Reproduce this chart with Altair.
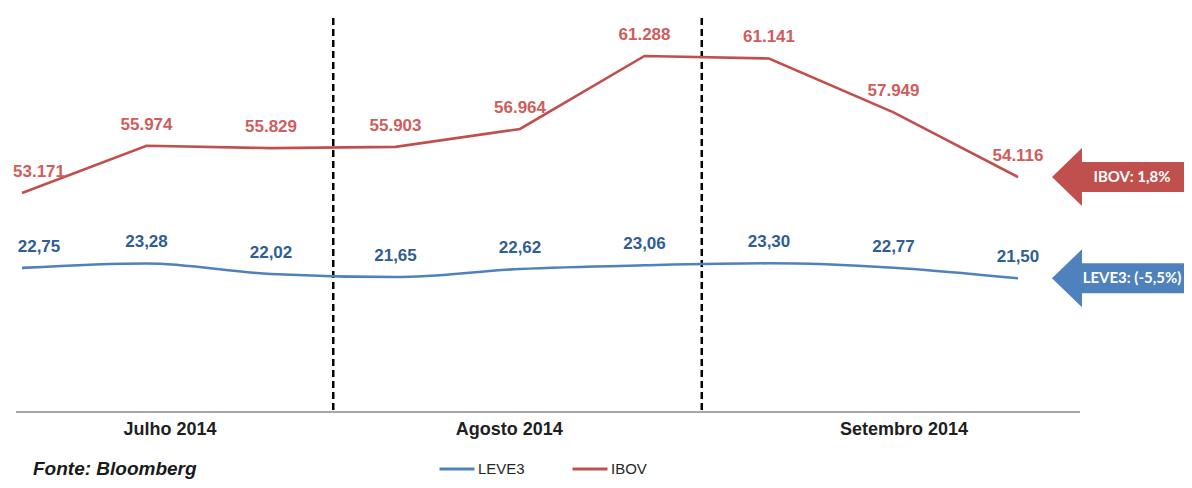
import altair as alt
import pandas as pd

# ---- data ----
idx = list(range(9))
ibov = [53171, 55974, 55829, 55903, 56964, 61288, 61141, 57949, 54116]
leve3 = [22.75, 23.28, 22.02, 21.65, 22.62, 23.06, 23.30, 22.77, 21.50]
months = ["Julho 2014", "Agosto 2014", "Setembro 2014"]
month_pos = [1.185, 3.91, 7.08]
separators = [2.5, 5.46]
arrow_text = ["IBOV: 1,8%", "LEVE3: (-5,5%)"]
series_names = ["LEVE3", "IBOV"]
source = "Fonte: Bloomberg"

RED = "#C0504D"
BLUE = "#4F81BD"
RED_LBL = "#CF5D5E"
BLUE_LBL = "#2F5D95"
FONT = "Liberation Sans"

W, H = 1168, 394

ibov_df = pd.DataFrame({
    "i": idx, "v": ibov, "series": "IBOV",
    "label": [f"{v:,}".replace(",", ".") for v in ibov],
})
leve_df = pd.DataFrame({
    "i": idx, "v": leve3, "series": "LEVE3",
    "label": [f"{v:.2f}".replace(".", ",") for v in leve3],
})

xscale = alt.Scale(domain=[-0.0482, -0.0482 + W / 124.5], nice=False, zero=False)
label_expr = (
    f"datum.value < {separators[0]} ? '{months[0]}' : "
    f"datum.value < {separators[1]} ? '{months[1]}' : '{months[2]}'"
)
xaxis = alt.Axis(
    values=month_pos, labelExpr=label_expr, domain=False, ticks=False,
    grid=False, title=None, labelFont=FONT, labelFontSize=18,
    labelFontWeight="bold", labelColor="#1f1f1f", labelPadding=8,
    labelFlush=False, labelOverlap=False,
)


def X(field):
    return alt.X(f"{field}:Q", scale=xscale, axis=xaxis)


ibov_scale = alt.Scale(domain=[40196, 63539], nice=False, zero=False)
leve_scale = alt.Scale(domain=[5.45, 52.75], nice=False, zero=False)

color_enc = alt.Color(
    "series:N",
    scale=alt.Scale(domain=series_names, range=[BLUE, RED]),
    legend=alt.Legend(
        orient="none", legendX=422, legendY=432, direction="horizontal",
        title=None, symbolType="stroke", symbolSize=1225,
        symbolStrokeWidth=3, labelFont=FONT, labelFontSize=15,
        labelColor="#262626", labelOffset=2, columnPadding=41, padding=0,
    ),
)

arrow_path = ("M -1 0 L -0.552 -0.433 L -0.552 -0.224 L 1 -0.224 "
              "L 1 0.224 L -0.552 0.224 L -0.552 0.433 Z")


def series_group(df, yscale, line_color, lbl_color, interp, atext):
    y = alt.Y("v:Q", scale=yscale, axis=None)
    base = alt.Chart(df)
    line = base.mark_line(strokeWidth=2.6, interpolate=interp).encode(
        x=X("i"), y=y, color=color_enc)
    txt_kw = dict(dy=-21, fontSize=17, fontWeight="bold", font=FONT,
                  color=lbl_color, baseline="middle")
    lbl0 = base.transform_filter("datum.i == 0").mark_text(dx=17, **txt_kw).encode(
        x=X("i"), y=y, text="label:N")
    lbls = base.transform_filter("datum.i > 0").mark_text(**txt_kw).encode(
        x=X("i"), y=y, text="label:N")
    adf = pd.DataFrame({"i": [8.811], "v": [df["v"].iloc[-1]], "t": [atext]})
    arrow = alt.Chart(adf).mark_point(
        shape=arrow_path, filled=True, size=17956, color=line_color,
        opacity=1, strokeWidth=0).encode(x=X("i"), y=y)
    atxt = alt.Chart(adf).mark_text(
        dx=13, font="Lato", fontSize=15, fontWeight="bold", color="white"
    ).encode(x=X("i"), y=y, text="t:N")
    return [line, lbl0, lbls, arrow, atxt]


sep_df = pd.DataFrame({"s": separators})
seps = alt.Chart(sep_df).mark_rule(
    color="black", strokeWidth=2.5, strokeDash=[7, 4]).encode(x=X("s"))

base_df = pd.DataFrame({"x0": [-0.048], "x1": [8.498], "y": [ibov_scale.domain[0]]})
baseline = alt.Chart(base_df).mark_rule(color="#A6A6A6", strokeWidth=2).encode(
    x=X("x0"), x2="x1:Q", y=alt.Y("y:Q", scale=ibov_scale, axis=None))

src = alt.Chart(pd.DataFrame({"t": [source]})).mark_text(
    align="left", baseline="alphabetic", font=FONT, fontSize=19,
    fontStyle="italic", fontWeight="bold", color="#1a1a1a"
).encode(x=alt.value(17), y=alt.value(457), text="t:N")

ibov_group = alt.layer(
    baseline, seps,
    *series_group(ibov_df, ibov_scale, RED, RED_LBL, "linear", arrow_text[0]),
)
leve_group = alt.layer(
    *series_group(leve_df, leve_scale, BLUE, BLUE_LBL, "monotone", arrow_text[1]),
    src,
)

chart = alt.layer(ibov_group, leve_group).resolve_scale(y="independent").properties(
    width=W, height=H,
    padding={"left": 8, "top": 10, "right": 0, "bottom": 68},
    autosize=alt.AutoSizeParams(type="none"),
    background="white",
).configure_view(stroke=None)

chart.save("out.html", embed_options={"renderer": "svg", "actions": False})
